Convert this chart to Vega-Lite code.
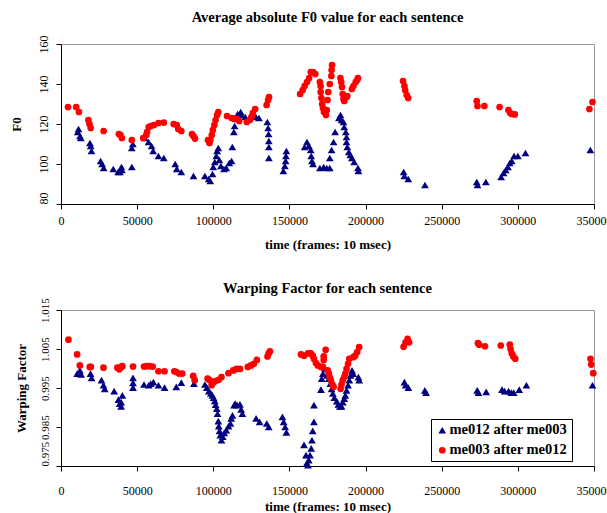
{
  "$schema": "https://vega.github.io/schema/vega-lite/v6.json",
  "background": "white",
  "padding": {"left": 9, "top": 9, "right": 5, "bottom": 0},
  "spacing": 28,
  "config": {
    "font": "Liberation Serif",
    "view": {"stroke": "#999999", "strokeWidth": 1},
    "axis": {
      "grid": false,
      "domainColor": "black",
      "tickColor": "black",
      "labelColor": "black",
      "titleColor": "black",
      "labelFont": "Liberation Serif",
      "labelFontSize": 12,
      "titleFont": "Liberation Serif",
      "titleFontSize": 13,
      "titleFontWeight": "bold",
      "tickSize": 5
    },
    "title": {"font": "Liberation Serif", "fontSize": 14.5, "fontWeight": "bold", "color": "black", "anchor": "middle"}
  },
  "datasets": {
    "f0": [
      {"t": 11000, "v": 116, "s": "me012 after me003"},
      {"t": 11500, "v": 117.5, "s": "me012 after me003"},
      {"t": 12500, "v": 114, "s": "me012 after me003"},
      {"t": 13000, "v": 113, "s": "me012 after me003"},
      {"t": 19000, "v": 110.5, "s": "me012 after me003"},
      {"t": 19500, "v": 109, "s": "me012 after me003"},
      {"t": 20000, "v": 106.5, "s": "me012 after me003"},
      {"t": 26000, "v": 101.5, "s": "me012 after me003"},
      {"t": 27000, "v": 100, "s": "me012 after me003"},
      {"t": 28000, "v": 98, "s": "me012 after me003"},
      {"t": 34300, "v": 97.5, "s": "me012 after me003"},
      {"t": 37500, "v": 96, "s": "me012 after me003"},
      {"t": 38700, "v": 96, "s": "me012 after me003"},
      {"t": 39700, "v": 98.5, "s": "me012 after me003"},
      {"t": 40000, "v": 97, "s": "me012 after me003"},
      {"t": 46500, "v": 98.5, "s": "me012 after me003"},
      {"t": 46500, "v": 108, "s": "me012 after me003"},
      {"t": 47200, "v": 110, "s": "me012 after me003"},
      {"t": 55000, "v": 113, "s": "me012 after me003"},
      {"t": 57500, "v": 111, "s": "me012 after me003"},
      {"t": 59500, "v": 109, "s": "me012 after me003"},
      {"t": 60500, "v": 106.5, "s": "me012 after me003"},
      {"t": 64000, "v": 104, "s": "me012 after me003"},
      {"t": 67500, "v": 103, "s": "me012 after me003"},
      {"t": 75000, "v": 100, "s": "me012 after me003"},
      {"t": 76000, "v": 97.5, "s": "me012 after me003"},
      {"t": 79000, "v": 96, "s": "me012 after me003"},
      {"t": 87000, "v": 94, "s": "me012 after me003"},
      {"t": 94500, "v": 94, "s": "me012 after me003"},
      {"t": 97000, "v": 92.5, "s": "me012 after me003"},
      {"t": 98000, "v": 91.5, "s": "me012 after me003"},
      {"t": 99500, "v": 95, "s": "me012 after me003"},
      {"t": 100000, "v": 98.5, "s": "me012 after me003"},
      {"t": 101000, "v": 101, "s": "me012 after me003"},
      {"t": 102000, "v": 104, "s": "me012 after me003"},
      {"t": 102500, "v": 106.5, "s": "me012 after me003"},
      {"t": 103300, "v": 108, "s": "me012 after me003"},
      {"t": 104000, "v": 102, "s": "me012 after me003"},
      {"t": 105000, "v": 99, "s": "me012 after me003"},
      {"t": 107000, "v": 97.5, "s": "me012 after me003"},
      {"t": 108500, "v": 98, "s": "me012 after me003"},
      {"t": 110500, "v": 100.5, "s": "me012 after me003"},
      {"t": 112000, "v": 101.5, "s": "me012 after me003"},
      {"t": 112500, "v": 108.5, "s": "me012 after me003"},
      {"t": 113500, "v": 116, "s": "me012 after me003"},
      {"t": 114000, "v": 119, "s": "me012 after me003"},
      {"t": 115000, "v": 122.5, "s": "me012 after me003"},
      {"t": 116000, "v": 125, "s": "me012 after me003"},
      {"t": 118000, "v": 126, "s": "me012 after me003"},
      {"t": 118500, "v": 124.5, "s": "me012 after me003"},
      {"t": 121000, "v": 123.5, "s": "me012 after me003"},
      {"t": 128000, "v": 123.5, "s": "me012 after me003"},
      {"t": 130000, "v": 123, "s": "me012 after me003"},
      {"t": 135500, "v": 121, "s": "me012 after me003"},
      {"t": 136000, "v": 118, "s": "me012 after me003"},
      {"t": 136300, "v": 115, "s": "me012 after me003"},
      {"t": 136500, "v": 111.5, "s": "me012 after me003"},
      {"t": 136500, "v": 108.5, "s": "me012 after me003"},
      {"t": 136500, "v": 103, "s": "me012 after me003"},
      {"t": 146000, "v": 96.5, "s": "me012 after me003"},
      {"t": 147000, "v": 99, "s": "me012 after me003"},
      {"t": 147500, "v": 101.5, "s": "me012 after me003"},
      {"t": 147700, "v": 104, "s": "me012 after me003"},
      {"t": 148000, "v": 106.5, "s": "me012 after me003"},
      {"t": 160000, "v": 108.5, "s": "me012 after me003"},
      {"t": 161500, "v": 111, "s": "me012 after me003"},
      {"t": 162800, "v": 109, "s": "me012 after me003"},
      {"t": 164000, "v": 107, "s": "me012 after me003"},
      {"t": 164300, "v": 104, "s": "me012 after me003"},
      {"t": 164800, "v": 101.5, "s": "me012 after me003"},
      {"t": 165500, "v": 100, "s": "me012 after me003"},
      {"t": 170000, "v": 98, "s": "me012 after me003"},
      {"t": 172500, "v": 98.5, "s": "me012 after me003"},
      {"t": 174500, "v": 98, "s": "me012 after me003"},
      {"t": 176500, "v": 98, "s": "me012 after me003"},
      {"t": 176500, "v": 103, "s": "me012 after me003"},
      {"t": 177700, "v": 107, "s": "me012 after me003"},
      {"t": 179000, "v": 111, "s": "me012 after me003"},
      {"t": 180000, "v": 116, "s": "me012 after me003"},
      {"t": 182500, "v": 123, "s": "me012 after me003"},
      {"t": 183500, "v": 124.5, "s": "me012 after me003"},
      {"t": 184300, "v": 122, "s": "me012 after me003"},
      {"t": 185500, "v": 121, "s": "me012 after me003"},
      {"t": 186000, "v": 118.5, "s": "me012 after me003"},
      {"t": 187000, "v": 116, "s": "me012 after me003"},
      {"t": 187500, "v": 113.5, "s": "me012 after me003"},
      {"t": 187500, "v": 111, "s": "me012 after me003"},
      {"t": 188000, "v": 108.5, "s": "me012 after me003"},
      {"t": 189000, "v": 106, "s": "me012 after me003"},
      {"t": 190000, "v": 104.5, "s": "me012 after me003"},
      {"t": 191000, "v": 103, "s": "me012 after me003"},
      {"t": 192500, "v": 101, "s": "me012 after me003"},
      {"t": 195000, "v": 98, "s": "me012 after me003"},
      {"t": 195300, "v": 96.5, "s": "me012 after me003"},
      {"t": 225000, "v": 96, "s": "me012 after me003"},
      {"t": 225500, "v": 94, "s": "me012 after me003"},
      {"t": 228000, "v": 92.5, "s": "me012 after me003"},
      {"t": 239000, "v": 89.5, "s": "me012 after me003"},
      {"t": 273000, "v": 91, "s": "me012 after me003"},
      {"t": 273500, "v": 89.5, "s": "me012 after me003"},
      {"t": 279000, "v": 91, "s": "me012 after me003"},
      {"t": 289000, "v": 93.5, "s": "me012 after me003"},
      {"t": 290600, "v": 95.5, "s": "me012 after me003"},
      {"t": 292000, "v": 97, "s": "me012 after me003"},
      {"t": 293500, "v": 98.5, "s": "me012 after me003"},
      {"t": 294700, "v": 100.5, "s": "me012 after me003"},
      {"t": 296000, "v": 101.5, "s": "me012 after me003"},
      {"t": 297500, "v": 104, "s": "me012 after me003"},
      {"t": 300000, "v": 104, "s": "me012 after me003"},
      {"t": 305000, "v": 105.5, "s": "me012 after me003"},
      {"t": 347600, "v": 107, "s": "me012 after me003"},
      {"t": 4600, "v": 128.5, "s": "me003 after me012"},
      {"t": 10000, "v": 128.5, "s": "me003 after me012"},
      {"t": 11800, "v": 126, "s": "me003 after me012"},
      {"t": 18000, "v": 122, "s": "me003 after me012"},
      {"t": 18700, "v": 120, "s": "me003 after me012"},
      {"t": 19500, "v": 118, "s": "me003 after me012"},
      {"t": 28000, "v": 116.5, "s": "me003 after me012"},
      {"t": 38000, "v": 115, "s": "me003 after me012"},
      {"t": 39000, "v": 114.5, "s": "me003 after me012"},
      {"t": 40000, "v": 113, "s": "me003 after me012"},
      {"t": 46500, "v": 112, "s": "me003 after me012"},
      {"t": 54000, "v": 113, "s": "me003 after me012"},
      {"t": 56000, "v": 114.5, "s": "me003 after me012"},
      {"t": 56500, "v": 116, "s": "me003 after me012"},
      {"t": 57600, "v": 118.5, "s": "me003 after me012"},
      {"t": 59000, "v": 119, "s": "me003 after me012"},
      {"t": 61000, "v": 119.5, "s": "me003 after me012"},
      {"t": 64000, "v": 120.5, "s": "me003 after me012"},
      {"t": 67500, "v": 120.7, "s": "me003 after me012"},
      {"t": 74000, "v": 120, "s": "me003 after me012"},
      {"t": 76000, "v": 119.5, "s": "me003 after me012"},
      {"t": 77000, "v": 117.5, "s": "me003 after me012"},
      {"t": 79000, "v": 116.5, "s": "me003 after me012"},
      {"t": 86000, "v": 115, "s": "me003 after me012"},
      {"t": 87000, "v": 114, "s": "me003 after me012"},
      {"t": 88000, "v": 112.7, "s": "me003 after me012"},
      {"t": 96500, "v": 112, "s": "me003 after me012"},
      {"t": 97500, "v": 110.5, "s": "me003 after me012"},
      {"t": 98000, "v": 112, "s": "me003 after me012"},
      {"t": 99000, "v": 114.5, "s": "me003 after me012"},
      {"t": 99700, "v": 117, "s": "me003 after me012"},
      {"t": 100700, "v": 119.5, "s": "me003 after me012"},
      {"t": 101500, "v": 122, "s": "me003 after me012"},
      {"t": 102500, "v": 124.5, "s": "me003 after me012"},
      {"t": 103300, "v": 126, "s": "me003 after me012"},
      {"t": 109000, "v": 124, "s": "me003 after me012"},
      {"t": 112000, "v": 123, "s": "me003 after me012"},
      {"t": 113500, "v": 122.8, "s": "me003 after me012"},
      {"t": 115600, "v": 122.5, "s": "me003 after me012"},
      {"t": 117000, "v": 121.5, "s": "me003 after me012"},
      {"t": 122000, "v": 121, "s": "me003 after me012"},
      {"t": 124000, "v": 122, "s": "me003 after me012"},
      {"t": 125000, "v": 123.5, "s": "me003 after me012"},
      {"t": 126000, "v": 125.5, "s": "me003 after me012"},
      {"t": 127500, "v": 127.5, "s": "me003 after me012"},
      {"t": 135000, "v": 129.5, "s": "me003 after me012"},
      {"t": 136000, "v": 132, "s": "me003 after me012"},
      {"t": 136600, "v": 133.5, "s": "me003 after me012"},
      {"t": 157000, "v": 135, "s": "me003 after me012"},
      {"t": 158700, "v": 137, "s": "me003 after me012"},
      {"t": 160000, "v": 139, "s": "me003 after me012"},
      {"t": 161500, "v": 141, "s": "me003 after me012"},
      {"t": 163000, "v": 143, "s": "me003 after me012"},
      {"t": 164000, "v": 146, "s": "me003 after me012"},
      {"t": 165500, "v": 146, "s": "me003 after me012"},
      {"t": 167000, "v": 145, "s": "me003 after me012"},
      {"t": 170000, "v": 141, "s": "me003 after me012"},
      {"t": 170500, "v": 139, "s": "me003 after me012"},
      {"t": 170500, "v": 136, "s": "me003 after me012"},
      {"t": 171000, "v": 133, "s": "me003 after me012"},
      {"t": 171500, "v": 130, "s": "me003 after me012"},
      {"t": 172000, "v": 128, "s": "me003 after me012"},
      {"t": 172700, "v": 126, "s": "me003 after me012"},
      {"t": 174000, "v": 124.5, "s": "me003 after me012"},
      {"t": 174500, "v": 127, "s": "me003 after me012"},
      {"t": 175000, "v": 132, "s": "me003 after me012"},
      {"t": 175500, "v": 136, "s": "me003 after me012"},
      {"t": 176500, "v": 140, "s": "me003 after me012"},
      {"t": 177500, "v": 144, "s": "me003 after me012"},
      {"t": 177700, "v": 147, "s": "me003 after me012"},
      {"t": 178000, "v": 149.5, "s": "me003 after me012"},
      {"t": 183500, "v": 143, "s": "me003 after me012"},
      {"t": 184000, "v": 141, "s": "me003 after me012"},
      {"t": 184500, "v": 138.5, "s": "me003 after me012"},
      {"t": 185000, "v": 135, "s": "me003 after me012"},
      {"t": 185500, "v": 132.5, "s": "me003 after me012"},
      {"t": 186000, "v": 131.5, "s": "me003 after me012"},
      {"t": 187500, "v": 133.5, "s": "me003 after me012"},
      {"t": 188000, "v": 134, "s": "me003 after me012"},
      {"t": 191000, "v": 137.5, "s": "me003 after me012"},
      {"t": 192000, "v": 139, "s": "me003 after me012"},
      {"t": 193500, "v": 141, "s": "me003 after me012"},
      {"t": 194500, "v": 142, "s": "me003 after me012"},
      {"t": 195000, "v": 143, "s": "me003 after me012"},
      {"t": 224600, "v": 141.5, "s": "me003 after me012"},
      {"t": 225500, "v": 139, "s": "me003 after me012"},
      {"t": 226000, "v": 137, "s": "me003 after me012"},
      {"t": 227000, "v": 134.5, "s": "me003 after me012"},
      {"t": 228000, "v": 133, "s": "me003 after me012"},
      {"t": 273000, "v": 131.5, "s": "me003 after me012"},
      {"t": 273500, "v": 129, "s": "me003 after me012"},
      {"t": 278000, "v": 129, "s": "me003 after me012"},
      {"t": 288000, "v": 128.5, "s": "me003 after me012"},
      {"t": 293800, "v": 127, "s": "me003 after me012"},
      {"t": 295000, "v": 125.5, "s": "me003 after me012"},
      {"t": 296000, "v": 125, "s": "me003 after me012"},
      {"t": 298000, "v": 124.8, "s": "me003 after me012"},
      {"t": 347000, "v": 127.5, "s": "me003 after me012"},
      {"t": 349000, "v": 131, "s": "me003 after me012"}
    ],
    "wf": [
      {"t": 10600, "v": 0.9987, "s": "me012 after me003"},
      {"t": 12400, "v": 0.9995, "s": "me012 after me003"},
      {"t": 13200, "v": 0.9985, "s": "me012 after me003"},
      {"t": 19400, "v": 0.9987, "s": "me012 after me003"},
      {"t": 20100, "v": 0.9976, "s": "me012 after me003"},
      {"t": 26600, "v": 0.997, "s": "me012 after me003"},
      {"t": 27900, "v": 0.9957, "s": "me012 after me003"},
      {"t": 28700, "v": 0.9948, "s": "me012 after me003"},
      {"t": 34900, "v": 0.9942, "s": "me012 after me003"},
      {"t": 37700, "v": 0.992, "s": "me012 after me003"},
      {"t": 38500, "v": 0.991, "s": "me012 after me003"},
      {"t": 39500, "v": 0.9903, "s": "me012 after me003"},
      {"t": 40300, "v": 0.9931, "s": "me012 after me003"},
      {"t": 39500, "v": 0.9914, "s": "me012 after me003"},
      {"t": 47300, "v": 0.9976, "s": "me012 after me003"},
      {"t": 47300, "v": 0.9963, "s": "me012 after me003"},
      {"t": 47300, "v": 0.9951, "s": "me012 after me003"},
      {"t": 54500, "v": 0.9959, "s": "me012 after me003"},
      {"t": 57600, "v": 0.9957, "s": "me012 after me003"},
      {"t": 58900, "v": 0.9961, "s": "me012 after me003"},
      {"t": 60700, "v": 0.9965, "s": "me012 after me003"},
      {"t": 64000, "v": 0.9957, "s": "me012 after me003"},
      {"t": 68000, "v": 0.9951, "s": "me012 after me003"},
      {"t": 75700, "v": 0.9953, "s": "me012 after me003"},
      {"t": 79000, "v": 0.9964, "s": "me012 after me003"},
      {"t": 87300, "v": 0.9961, "s": "me012 after me003"},
      {"t": 94500, "v": 0.9959, "s": "me012 after me003"},
      {"t": 95800, "v": 0.9951, "s": "me012 after me003"},
      {"t": 97100, "v": 0.9942, "s": "me012 after me003"},
      {"t": 98400, "v": 0.9936, "s": "me012 after me003"},
      {"t": 99400, "v": 0.9931, "s": "me012 after me003"},
      {"t": 100200, "v": 0.9925, "s": "me012 after me003"},
      {"t": 101000, "v": 0.9917, "s": "me012 after me003"},
      {"t": 101500, "v": 0.9907, "s": "me012 after me003"},
      {"t": 102300, "v": 0.9897, "s": "me012 after me003"},
      {"t": 102800, "v": 0.9884, "s": "me012 after me003"},
      {"t": 103300, "v": 0.9865, "s": "me012 after me003"},
      {"t": 103600, "v": 0.9852, "s": "me012 after me003"},
      {"t": 104100, "v": 0.984, "s": "me012 after me003"},
      {"t": 104600, "v": 0.9829, "s": "me012 after me003"},
      {"t": 105400, "v": 0.9816, "s": "me012 after me003"},
      {"t": 106200, "v": 0.9825, "s": "me012 after me003"},
      {"t": 107200, "v": 0.9835, "s": "me012 after me003"},
      {"t": 108500, "v": 0.9842, "s": "me012 after me003"},
      {"t": 110000, "v": 0.9852, "s": "me012 after me003"},
      {"t": 111300, "v": 0.9859, "s": "me012 after me003"},
      {"t": 111800, "v": 0.9872, "s": "me012 after me003"},
      {"t": 112600, "v": 0.988, "s": "me012 after me003"},
      {"t": 113700, "v": 0.9906, "s": "me012 after me003"},
      {"t": 114400, "v": 0.991, "s": "me012 after me003"},
      {"t": 115700, "v": 0.9906, "s": "me012 after me003"},
      {"t": 117500, "v": 0.9908, "s": "me012 after me003"},
      {"t": 118300, "v": 0.9895, "s": "me012 after me003"},
      {"t": 119100, "v": 0.9884, "s": "me012 after me003"},
      {"t": 128100, "v": 0.9872, "s": "me012 after me003"},
      {"t": 130400, "v": 0.9863, "s": "me012 after me003"},
      {"t": 135100, "v": 0.9859, "s": "me012 after me003"},
      {"t": 136400, "v": 0.985, "s": "me012 after me003"},
      {"t": 145400, "v": 0.9876, "s": "me012 after me003"},
      {"t": 146200, "v": 0.9863, "s": "me012 after me003"},
      {"t": 147200, "v": 0.985, "s": "me012 after me003"},
      {"t": 148000, "v": 0.9836, "s": "me012 after me003"},
      {"t": 159600, "v": 0.9804, "s": "me012 after me003"},
      {"t": 160900, "v": 0.9778, "s": "me012 after me003"},
      {"t": 161400, "v": 0.9757, "s": "me012 after me003"},
      {"t": 162200, "v": 0.9752, "s": "me012 after me003"},
      {"t": 162700, "v": 0.9765, "s": "me012 after me003"},
      {"t": 163500, "v": 0.9778, "s": "me012 after me003"},
      {"t": 164300, "v": 0.9795, "s": "me012 after me003"},
      {"t": 164800, "v": 0.9816, "s": "me012 after me003"},
      {"t": 165300, "v": 0.984, "s": "me012 after me003"},
      {"t": 166100, "v": 0.9863, "s": "me012 after me003"},
      {"t": 166100, "v": 0.9906, "s": "me012 after me003"},
      {"t": 170700, "v": 0.9946, "s": "me012 after me003"},
      {"t": 171200, "v": 0.9974, "s": "me012 after me003"},
      {"t": 172000, "v": 0.9987, "s": "me012 after me003"},
      {"t": 173300, "v": 1.0, "s": "me012 after me003"},
      {"t": 174600, "v": 0.9982, "s": "me012 after me003"},
      {"t": 175900, "v": 0.9974, "s": "me012 after me003"},
      {"t": 176900, "v": 0.9961, "s": "me012 after me003"},
      {"t": 177700, "v": 0.9948, "s": "me012 after me003"},
      {"t": 178500, "v": 0.9936, "s": "me012 after me003"},
      {"t": 179500, "v": 0.9925, "s": "me012 after me003"},
      {"t": 181100, "v": 0.9916, "s": "me012 after me003"},
      {"t": 182100, "v": 0.9908, "s": "me012 after me003"},
      {"t": 183100, "v": 0.9903, "s": "me012 after me003"},
      {"t": 184200, "v": 0.9903, "s": "me012 after me003"},
      {"t": 185000, "v": 0.9914, "s": "me012 after me003"},
      {"t": 186000, "v": 0.9923, "s": "me012 after me003"},
      {"t": 186700, "v": 0.9931, "s": "me012 after me003"},
      {"t": 187500, "v": 0.9944, "s": "me012 after me003"},
      {"t": 188500, "v": 0.9957, "s": "me012 after me003"},
      {"t": 189300, "v": 0.997, "s": "me012 after me003"},
      {"t": 190100, "v": 0.9982, "s": "me012 after me003"},
      {"t": 191100, "v": 0.9995, "s": "me012 after me003"},
      {"t": 191900, "v": 0.9987, "s": "me012 after me003"},
      {"t": 195300, "v": 0.9978, "s": "me012 after me003"},
      {"t": 195800, "v": 0.997, "s": "me012 after me003"},
      {"t": 225500, "v": 0.9965, "s": "me012 after me003"},
      {"t": 226300, "v": 0.9957, "s": "me012 after me003"},
      {"t": 228100, "v": 0.9951, "s": "me012 after me003"},
      {"t": 238900, "v": 0.9944, "s": "me012 after me003"},
      {"t": 239700, "v": 0.9938, "s": "me012 after me003"},
      {"t": 273300, "v": 0.9944, "s": "me012 after me003"},
      {"t": 274100, "v": 0.9938, "s": "me012 after me003"},
      {"t": 279200, "v": 0.994, "s": "me012 after me003"},
      {"t": 289600, "v": 0.9946, "s": "me012 after me003"},
      {"t": 291300, "v": 0.9942, "s": "me012 after me003"},
      {"t": 293900, "v": 0.9942, "s": "me012 after me003"},
      {"t": 295700, "v": 0.9938, "s": "me012 after me003"},
      {"t": 297300, "v": 0.9938, "s": "me012 after me003"},
      {"t": 300900, "v": 0.9946, "s": "me012 after me003"},
      {"t": 305600, "v": 0.9957, "s": "me012 after me003"},
      {"t": 349000, "v": 0.9957, "s": "me012 after me003"},
      {"t": 4900, "v": 1.0074, "s": "me003 after me012"},
      {"t": 10600, "v": 1.0036, "s": "me003 after me012"},
      {"t": 12400, "v": 1.0008, "s": "me003 after me012"},
      {"t": 18900, "v": 1.0004, "s": "me003 after me012"},
      {"t": 19600, "v": 1.0004, "s": "me003 after me012"},
      {"t": 27900, "v": 1.0002, "s": "me003 after me012"},
      {"t": 37000, "v": 1.0002, "s": "me003 after me012"},
      {"t": 38200, "v": 0.9998, "s": "me003 after me012"},
      {"t": 39500, "v": 1.0004, "s": "me003 after me012"},
      {"t": 40300, "v": 1.0006, "s": "me003 after me012"},
      {"t": 47300, "v": 1.0005, "s": "me003 after me012"},
      {"t": 54500, "v": 1.0005, "s": "me003 after me012"},
      {"t": 56300, "v": 1.0006, "s": "me003 after me012"},
      {"t": 58100, "v": 1.0006, "s": "me003 after me012"},
      {"t": 60200, "v": 1.0005, "s": "me003 after me012"},
      {"t": 64000, "v": 0.9993, "s": "me003 after me012"},
      {"t": 68000, "v": 0.9993, "s": "me003 after me012"},
      {"t": 74400, "v": 0.9993, "s": "me003 after me012"},
      {"t": 75700, "v": 0.9991, "s": "me003 after me012"},
      {"t": 77500, "v": 0.9987, "s": "me003 after me012"},
      {"t": 79600, "v": 0.9987, "s": "me003 after me012"},
      {"t": 86800, "v": 0.9981, "s": "me003 after me012"},
      {"t": 87800, "v": 0.997, "s": "me003 after me012"},
      {"t": 96300, "v": 0.9974, "s": "me003 after me012"},
      {"t": 97600, "v": 0.997, "s": "me003 after me012"},
      {"t": 98900, "v": 0.9957, "s": "me003 after me012"},
      {"t": 100200, "v": 0.9965, "s": "me003 after me012"},
      {"t": 101500, "v": 0.9968, "s": "me003 after me012"},
      {"t": 103600, "v": 0.9971, "s": "me003 after me012"},
      {"t": 105400, "v": 0.9978, "s": "me003 after me012"},
      {"t": 110000, "v": 0.9988, "s": "me003 after me012"},
      {"t": 113100, "v": 0.9995, "s": "me003 after me012"},
      {"t": 115200, "v": 0.9999, "s": "me003 after me012"},
      {"t": 117500, "v": 0.9999, "s": "me003 after me012"},
      {"t": 122700, "v": 1.0004, "s": "me003 after me012"},
      {"t": 124800, "v": 1.0008, "s": "me003 after me012"},
      {"t": 126600, "v": 1.0012, "s": "me003 after me012"},
      {"t": 128600, "v": 1.0022, "s": "me003 after me012"},
      {"t": 135600, "v": 1.0031, "s": "me003 after me012"},
      {"t": 136400, "v": 1.0039, "s": "me003 after me012"},
      {"t": 137200, "v": 1.0044, "s": "me003 after me012"},
      {"t": 157600, "v": 1.0036, "s": "me003 after me012"},
      {"t": 159600, "v": 1.0033, "s": "me003 after me012"},
      {"t": 162200, "v": 1.0039, "s": "me003 after me012"},
      {"t": 164000, "v": 1.0039, "s": "me003 after me012"},
      {"t": 165300, "v": 1.0033, "s": "me003 after me012"},
      {"t": 166100, "v": 1.0025, "s": "me003 after me012"},
      {"t": 167400, "v": 1.0014, "s": "me003 after me012"},
      {"t": 168700, "v": 1.0008, "s": "me003 after me012"},
      {"t": 170700, "v": 1.0004, "s": "me003 after me012"},
      {"t": 172000, "v": 1.0004, "s": "me003 after me012"},
      {"t": 172500, "v": 1.0031, "s": "me003 after me012"},
      {"t": 172500, "v": 1.0022, "s": "me003 after me012"},
      {"t": 173800, "v": 1.0048, "s": "me003 after me012"},
      {"t": 175100, "v": 0.9995, "s": "me003 after me012"},
      {"t": 175900, "v": 0.9987, "s": "me003 after me012"},
      {"t": 176400, "v": 0.9978, "s": "me003 after me012"},
      {"t": 177200, "v": 0.997, "s": "me003 after me012"},
      {"t": 178200, "v": 0.9959, "s": "me003 after me012"},
      {"t": 179000, "v": 0.9953, "s": "me003 after me012"},
      {"t": 183600, "v": 0.9948, "s": "me003 after me012"},
      {"t": 184200, "v": 0.9959, "s": "me003 after me012"},
      {"t": 185000, "v": 0.997, "s": "me003 after me012"},
      {"t": 186000, "v": 0.9978, "s": "me003 after me012"},
      {"t": 186700, "v": 0.9987, "s": "me003 after me012"},
      {"t": 187500, "v": 0.9999, "s": "me003 after me012"},
      {"t": 188500, "v": 1.0012, "s": "me003 after me012"},
      {"t": 189300, "v": 1.0025, "s": "me003 after me012"},
      {"t": 191900, "v": 1.0029, "s": "me003 after me012"},
      {"t": 193200, "v": 1.0033, "s": "me003 after me012"},
      {"t": 194500, "v": 1.0042, "s": "me003 after me012"},
      {"t": 195800, "v": 1.0055, "s": "me003 after me012"},
      {"t": 225000, "v": 1.0056, "s": "me003 after me012"},
      {"t": 226300, "v": 1.0067, "s": "me003 after me012"},
      {"t": 227600, "v": 1.0076, "s": "me003 after me012"},
      {"t": 228600, "v": 1.0067, "s": "me003 after me012"},
      {"t": 273800, "v": 1.0065, "s": "me003 after me012"},
      {"t": 274600, "v": 1.0061, "s": "me003 after me012"},
      {"t": 278400, "v": 1.0057, "s": "me003 after me012"},
      {"t": 288800, "v": 1.0059, "s": "me003 after me012"},
      {"t": 294700, "v": 1.0061, "s": "me003 after me012"},
      {"t": 295200, "v": 1.005, "s": "me003 after me012"},
      {"t": 296000, "v": 1.0039, "s": "me003 after me012"},
      {"t": 297000, "v": 1.0031, "s": "me003 after me012"},
      {"t": 298300, "v": 1.0025, "s": "me003 after me012"},
      {"t": 347700, "v": 1.0025, "s": "me003 after me012"},
      {"t": 348200, "v": 1.001, "s": "me003 after me012"},
      {"t": 349500, "v": 0.9988, "s": "me003 after me012"}
    ]
  },
  "resolve": {"legend": {"color": "independent", "shape": "independent", "size": "independent"}},
  "vconcat": [
    {
      "width": 533,
      "height": 160,
      "title": {"text": "Average absolute F0 value for each sentence", "offset": 10},
      "data": {"name": "f0"},
      "mark": {"type": "point", "filled": true, "opacity": 1},
      "encoding": {
        "x": {"field": "t", "type": "quantitative", "scale": {"domain": [0, 350000], "nice": false},
          "axis": {"title": "time (frames: 10 msec)", "values": [0, 50000, 100000, 150000, 200000, 250000, 300000, 350000], "format": "d", "labelFlush": false, "labelPadding": 6, "titlePadding": 12}},
        "y": {"field": "v", "type": "quantitative", "scale": {"domain": [80, 160], "nice": false, "zero": false},
          "axis": {"title": "F0", "values": [80, 100, 120, 140, 160], "labelAngle": -90, "labelOverlap": false,
            "labelAlign": {"condition": {"test": "datum.value <= 80", "value": "left"}, "value": "center"},
            "labelBaseline": "bottom", "labelPadding": 6, "titlePadding": 14}},
        "color": {"field": "s", "type": "nominal", "scale": {"domain": ["me012 after me003", "me003 after me012"], "range": ["#000080", "#ff0000"]}, "legend": null},
        "shape": {"field": "s", "type": "nominal", "scale": {"domain": ["me012 after me003", "me003 after me012"], "range": ["triangle-up", "circle"]}, "legend": null},
        "size": {"field": "s", "type": "nominal", "scale": {"domain": ["me012 after me003", "me003 after me012"], "range": [60, 45]}, "legend": null}
      }
    },
    {
      "width": 533,
      "height": 156,
      "title": {"text": "Warping Factor for each sentence", "offset": 1},
      "data": {"name": "wf"},
      "mark": {"type": "point", "filled": true, "opacity": 1},
      "encoding": {
        "x": {"field": "t", "type": "quantitative", "scale": {"domain": [0, 350000], "nice": false},
          "axis": {"title": "time (frames: 10 msec)", "values": [0, 50000, 100000, 150000, 200000, 250000, 300000, 350000], "format": "d", "labelFlush": false, "labelPadding": 14, "titlePadding": 4}},
        "y": {"field": "v", "type": "quantitative", "scale": {"domain": [0.975, 1.015], "nice": false, "zero": false},
          "axis": {"title": "Warping Factor", "values": [0.975, 0.985, 0.995, 1.005, 1.015], "format": ".3f", "labelAngle": -90, "labelOverlap": false, "labelFontSize": 11,
            "labelAlign": {"condition": {"test": "datum.value < 0.976", "value": "left"}, "value": "center"},
            "labelBaseline": "bottom", "labelPadding": 6, "titlePadding": 11}},
        "color": {"field": "s", "type": "nominal", "scale": {"domain": ["me012 after me003", "me003 after me012"], "range": ["#000080", "#ff0000"]},
          "legend": {"title": null, "orient": "none", "legendX": 370, "legendY": 109, "strokeColor": "black", "fillColor": "white", "padding": 4, "labelFont": "Liberation Serif", "labelFontSize": 14.5, "labelFontWeight": "bold", "labelColor": "black", "symbolSize": 35, "labelOffset": 0, "rowPadding": 5, "labelLimit": 300}},
        "shape": {"field": "s", "type": "nominal", "scale": {"domain": ["me012 after me003", "me003 after me012"], "range": ["triangle-up", "circle"]}},
        "size": {"field": "s", "type": "nominal", "scale": {"domain": ["me012 after me003", "me003 after me012"], "range": [60, 45]}, "legend": null}
      }
    }
  ]
}
